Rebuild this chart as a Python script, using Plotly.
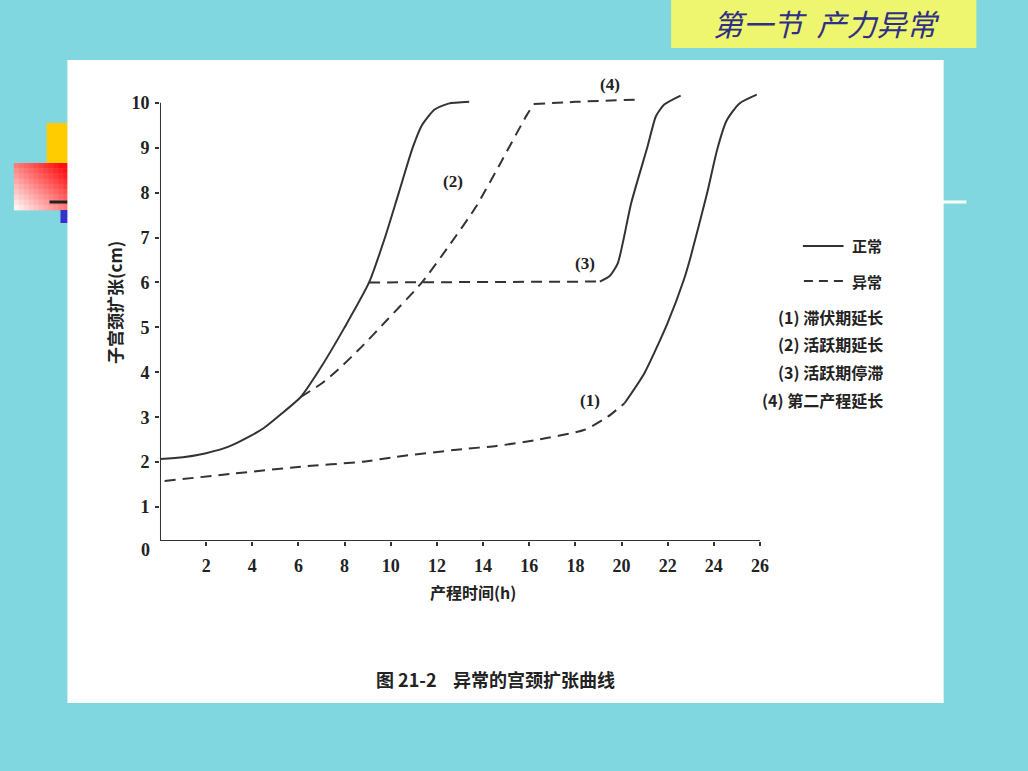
import plotly.graph_objects as go

W, H = 1028, 771

# ---------------- data ----------------
x_ticks = [2, 4, 6, 8, 10, 12, 14, 16, 18, 20, 22, 24, 26]
y_ticks = [1, 2, 3, 4, 5, 6, 7, 8, 9, 10]

# normal curve (solid)
normal_x = [0, 1, 2, 3, 3.8, 4.5, 5.2, 6.1, 6.9, 8.0, 9.06, 9.75, 10.35, 10.95, 11.35, 11.9, 12.5, 13.4]
normal_y = [2.07, 2.11, 2.2, 2.35, 2.55, 2.76, 3.05, 3.45, 4.05, 5.0, 6.0, 7.0, 8.0, 9.0, 9.5, 9.85, 9.98, 10.02]

# (1) latent phase prolonged: dashed then solid
c1_dash_x = [0.2, 3.08, 6.1, 8.8, 10.25, 13.1, 14.58, 16.26, 18.4, 19.4, 20.13]
c1_dash_y = [1.58, 1.74, 1.9, 2.01, 2.12, 2.29, 2.36, 2.49, 2.72, 3.01, 3.31]
c1_solid_x = [20.13, 20.99, 21.99, 22.7, 23.0, 23.71, 24.14, 24.55, 25.1, 25.86]
c1_solid_y = [3.31, 3.98, 5.09, 6.06, 6.58, 7.99, 8.95, 9.6, 9.98, 10.18]

# (2) active phase prolonged: dashed
c2_x = [6.1, 7.0, 7.7, 8.8, 9.85, 11.35, 12.5, 13.7, 14.8, 15.9, 16.2]
c2_y = [3.45, 3.75, 4.05, 4.6, 5.17, 6.0, 6.8, 7.69, 8.7, 9.73, 9.97]

# (3) active phase arrest: dashed plateau then solid
c3_dash_x = [9.06, 19.06]
c3_dash_y = [6.0, 6.02]
c3_solid_x = [19.06, 19.5, 19.84, 20.42, 21.13, 21.49, 21.85, 22.56]
c3_solid_y = [6.02, 6.15, 6.43, 7.77, 9.03, 9.70, 9.96, 10.16]

# (4) second stage prolonged: dashed plateau
c4_x = [16.2, 18.0, 20.6]
c4_y = [9.97, 10.02, 10.07]

curve_labels = ["(1)", "(2)", "(3)", "(4)"]
label_x = [18.63, 12.68, 18.41, 19.48]
label_y = [3.37, 8.25, 6.43, 10.4]

legend_lines = ["正常", "异常"]
legend_items = ["(1) 滞伏期延长", "(2) 活跃期延长", "(3) 活跃期停滞", "(4) 第二产程延长"]

header_text = "第一节  产力异常"
caption_text = "图 21-2    异常的宫颈扩张曲线"
x_title = "产程时间(h)"
y_title = "子宫颈扩张(cm)"

# ---------------- styling ----------------
TEAL = "#80D7DF"
INK = "#333333"
CJK = "Noto Sans CJK SC"
SERIF = "Liberation Serif"
DASH = "11px,7px"


def px(x):
    return x / W


def py(y):
    return 1 - y / H


fig = go.Figure()

def add_line(xs, ys, dashed):
    fig.add_trace(go.Scatter(
        x=xs, y=ys, mode="lines",
        line=dict(color=INK, width=2, dash=DASH if dashed else "solid",
                  shape="spline", smoothing=0.6),
        hoverinfo="skip", showlegend=False))

add_line(normal_x, normal_y, False)
add_line(c1_dash_x, c1_dash_y, True)
add_line(c1_solid_x, c1_solid_y, False)
add_line(c2_x, c2_y, True)
add_line(c3_dash_x, c3_dash_y, True)
add_line(c3_solid_x, c3_solid_y, False)
add_line(c4_x, c4_y, True)

shapes = []
# left slide decorations (beneath the white panel)
shapes.append(dict(type="rect", xref="paper", yref="paper", x0=px(47), x1=px(69),
                   y0=py(163), y1=py(123), fillcolor="#FFCC00", line_width=0, layer="below"))
# gradient box approximated with cells
gx0, gx1, gy0, gy1 = 14, 69, 163, 210
ncol, nrow = 11, 9
for i in range(ncol):
    for j in range(nrow):
        fx = (i + 0.5) / ncol          # 0 left -> 1 right
        fy = (j + 0.5) / nrow          # 0 top -> 1 bottom
        t = max(0.0, min(1.0, 0.55 * fx + 0.55 * (1 - fy)))
        g = int(255 - 240 * t)
        col = f"rgb(255,{g},{g})"
        cx0 = gx0 + (gx1 - gx0) * i / ncol
        cx1 = gx0 + (gx1 - gx0) * (i + 1) / ncol
        cy0 = gy0 + (gy1 - gy0) * j / nrow
        cy1 = gy0 + (gy1 - gy0) * (j + 1) / nrow
        shapes.append(dict(type="rect", xref="paper", yref="paper", x0=px(cx0), x1=px(cx1) + 0.0005,
                           y0=py(cy1) - 0.0005, y1=py(cy0), fillcolor=col, line_width=0, layer="below"))
shapes.append(dict(type="rect", xref="paper", yref="paper", x0=px(61), x1=px(69),
                   y0=py(223), y1=py(210), fillcolor="#3333CC", line_width=0, layer="below"))
shapes.append(dict(type="line", xref="paper", yref="paper", x0=px(50), x1=px(69),
                   y0=py(202), y1=py(202), line=dict(color="#222222", width=3), layer="below"))
shapes.append(dict(type="line", xref="paper", yref="paper", x0=px(940), x1=px(975),
                   y0=py(202), y1=py(202), line=dict(color="white", width=3), layer="below"))
# white panel
shapes.append(dict(type="rect", xref="paper", yref="paper", x0=px(68), x1=px(952),
                   y0=py(703), y1=py(60), fillcolor="white", line_width=0, layer="below"))
# header box
shapes.append(dict(type="rect", xref="paper", yref="paper", x0=px(677), x1=px(985),
                   y0=py(48), y1=py(0), fillcolor="#EEF56E", line_width=0, layer="below"))
# axis lines
shapes.append(dict(type="line", xref="x", yref="y", x0=0, x1=0, y0=0.245, y1=10,
                   line=dict(color=INK, width=2)))
shapes.append(dict(type="line", xref="x", yref="y", x0=0, x1=26, y0=0.245, y1=0.245,
                   line=dict(color=INK, width=2)))
# legend line samples
shapes.append(dict(type="line", xref="paper", yref="paper", x0=px(810), x1=px(851),
                   y0=py(246), y1=py(246), line=dict(color=INK, width=2)))
shapes.append(dict(type="line", xref="paper", yref="paper", x0=px(811), x1=px(851),
                   y0=py(281), y1=py(281), line=dict(color=INK, width=2, dash="9px,6px")))

annotations = []
for t, x, y in zip(curve_labels, label_x, label_y):
    annotations.append(dict(x=x, y=y, xref="x", yref="y", text=t, showarrow=False,
                            font=dict(family=SERIF, size=17, color="#222", weight="bold")))
legend_py = [246, 281]
for t, yy in zip(legend_lines, legend_py):
    annotations.append(dict(x=px(892), y=py(yy), xref="paper", yref="paper", text=t,
                            xanchor="right", yanchor="middle", showarrow=False,
                            font=dict(family=CJK, size=15, color="#222", weight="bold")))
item_py = [317, 344, 372, 400]
for t, yy in zip(legend_items, item_py):
    annotations.append(dict(x=px(893), y=py(yy), xref="paper", yref="paper", text=t,
                            xanchor="right", yanchor="middle", showarrow=False,
                            font=dict(family=CJK, size=16, color="#222", weight="bold")))
annotations.append(dict(x=px(147), y=py(550), xref="paper", yref="paper", text="0",
                        showarrow=False, xanchor="center", yanchor="middle",
                        font=dict(family=SERIF, size=18, color="#222", weight="bold")))
annotations.append(dict(x=px(500), y=py(679), xref="paper", yref="paper", text=caption_text,
                        showarrow=False, xanchor="center", yanchor="middle",
                        font=dict(family=CJK, size=18, color="#222", weight="bold")))
annotations.append(dict(x=px(477), y=py(592), xref="paper", yref="paper", text=x_title,
                        showarrow=False, xanchor="center", yanchor="middle",
                        font=dict(family=CJK, size=16, color="#222", weight="bold")))
annotations.append(dict(x=px(116), y=py(302), xref="paper", yref="paper", text=y_title,
                        showarrow=False, xanchor="center", yanchor="middle", textangle=-90,
                        font=dict(family=CJK, size=17, color="#222", weight="bold")))
annotations.append(dict(x=px(833), y=py(23), xref="paper", yref="paper", text=header_text,
                        showarrow=False, xanchor="center", yanchor="middle",
                        font=dict(family=CJK, size=30, color="#2E2F86", style="italic")))

fig.update_layout(
    width=W, height=H,
    margin=dict(l=0, r=0, t=0, b=0),
    paper_bgcolor=TEAL,
    plot_bgcolor="rgba(0,0,0,0)",
    shapes=shapes,
    annotations=annotations,
    showlegend=False,
    xaxis=dict(domain=[161.4 / W, 766.7 / W], range=[0, 26], tickvals=x_ticks,
               ticktext=[str(v) for v in x_ticks], showgrid=False, zeroline=False,
               showline=False, ticks="outside", ticklen=4, tickwidth=1.5, tickcolor=INK,
               ticklabelstandoff=4,
               tickfont=dict(family=SERIF, size=18, color="#222", weight="bold")),
    yaxis=dict(domain=[1 - 541 / H, 1 - 75.8 / H], range=[0.245, 10.6], tickvals=y_ticks,
               ticktext=[str(v) for v in y_ticks], showgrid=False, zeroline=False,
               showline=False, ticks="outside", ticklen=4, tickwidth=1.5, tickcolor=INK,
               ticklabelstandoff=2,
               tickfont=dict(family=SERIF, size=18, color="#222", weight="bold")),
)

post = (
    "document.documentElement.style.margin='0';"
    "document.body.style.margin='0';"
    "document.body.style.overflow='hidden';"
    "document.documentElement.style.overflow='hidden';"
    "var gd=document.getElementById('{plot_id}');"
    "gd.style.position='fixed';gd.style.left='0px';gd.style.top='0px';"
)
fig.write_html("out.html", config={"displayModeBar": False}, post_script=post)
